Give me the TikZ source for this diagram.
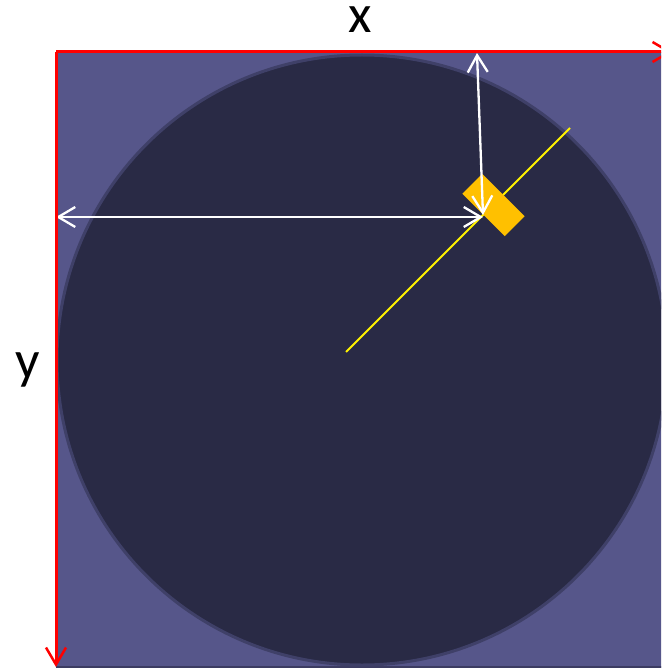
\documentclass[tikz,border=0pt]{standalone}
\usepackage{fontspec}
\setmainfont{Carlito}
\usetikzlibrary{arrows.meta}
\definecolor{sqfill}{HTML}{56568A}
\definecolor{sqedge}{HTML}{3C3C62}
\definecolor{cfill}{HTML}{292A45}
\definecolor{cedge}{HTML}{3F4068}
\definecolor{sensor}{HTML}{FFC000}
\tikzset{
  axis/.style={draw=red, line width=3pt, -{Straight Barb[length=17pt,width=20pt,line width=2.5pt]}},
  dim/.style={draw=white, line width=2.3pt, {Straight Barb[length=17pt,width=20pt,line width=2.3pt]}-{Straight Barb[length=17pt,width=20pt,line width=2.3pt]}},
  lbl/.style={font=\fontsize{54}{60}\selectfont, anchor=base, inner sep=0pt, text height=26pt, text depth=0pt},
}
\begin{document}
\begin{tikzpicture}[x=1pt,y=-1pt]
\useasboundingbox (0,0) rectangle (661,668);
\clip (0,0) rectangle (661,668);
% square
\fill[sqfill] (56,52) rectangle (680,668);
\draw[sqedge, line width=2pt] (56,667) -- (680,667);
% circle
\fill[cfill, draw=cedge, line width=3pt] (362,360) circle[radius=305];
% named points
\coordinate (O) at (56,52);
\coordinate (XE) at (672,52);
\coordinate (YE) at (56,667);
\coordinate (C) at (346,352);
\coordinate (R) at (570,128);
\coordinate (S) at (483,215);
\coordinate (L) at (56,217);
\coordinate (T) at (477,53);
\coordinate (H) at (483,217);
% yellow radius
\draw[yellow, line width=2pt] (C) -- (R);
% sensor rectangle
\node[fill=sensor, minimum width=60pt, minimum height=28pt, inner sep=0pt, rotate=-45] (sen) at (493.5,205) {};
% white dimension arrows
\draw[dim] (L) -- (H);
\draw[dim] (T) -- (S);
% axes
\draw[axis] (O) -- (XE);
\draw[axis] (O) -- (YE);
% labels
\node[lbl] (xl) at (360,33) {x};
\node[lbl] (yl) at (28,378) {y};
\end{tikzpicture}
\end{document}
